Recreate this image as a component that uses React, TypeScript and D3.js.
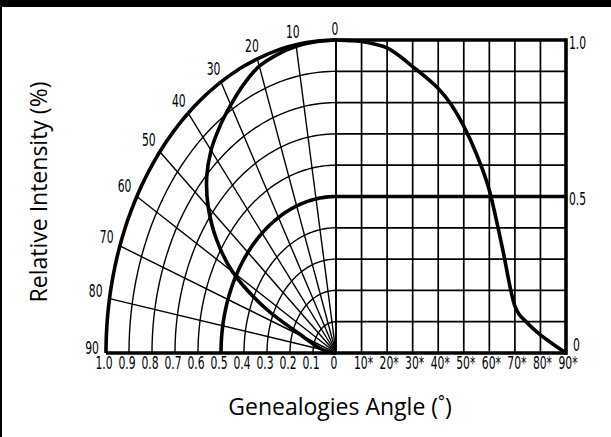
import * as d3 from "d3";
import React from "react";

// polar grid angles (degrees from vertical) and radii
const angleTicks = [0, 10, 20, 30, 40, 50, 60, 70, 80, 90];
const radiusTicks = [0.1, 0.2, 0.3, 0.4, 0.5, 0.6, 0.7, 0.8, 0.9, 1.0];
const intensityTicks = [0, 0.1, 0.2, 0.3, 0.4, 0.5, 0.6, 0.7, 0.8, 0.9, 1.0];

// bottom labels
const radiusLabelValues = [1.0, 0.9, 0.8, 0.7, 0.6, 0.5, 0.4, 0.3, 0.2, 0.1, 0];
const radiusLabels = ["1.0", "0.9", "0.8", "0.7", "0.6", "0.5", "0.4", "0.3", "0.2", "0.1", "0"];
const degreeLabelValues = [10, 20, 30, 40, 50, 60, 70, 80, 90];
const degreeLabels = ["10*", "20*", "30*", "40*", "50*", "60*", "70*", "80*", "90*"];
const intensityLabelValues = [1.0, 0.5, 0];
const intensityLabels = ["1.0", "0.5", "0"];

// measured intensity curve
const curveAngles = [0, 5, 10, 15, 20, 25, 30, 35, 40, 45, 50, 55, 60, 65, 70, 75, 80, 85, 90];
const curveIntensity = [1.0, 0.998, 0.995, 0.987, 0.975, 0.948, 0.915, 0.882, 0.845, 0.795, 0.725, 0.635, 0.52, 0.34, 0.15, 0.095, 0.058, 0.028, 0.0];

const width = 611;
const height = 437;
const cx = 336;
const cy = 353;

const tickFont = "'DejaVu Sans', sans-serif";
const tickSize = 18;
const squeeze = 0.6;
const titleFont = "'Open Sans', 'Noto Sans', sans-serif";

function Narrow({ x, y, anchor, children }: { x: number; y: number; anchor: string; children: React.ReactNode }) {
    return (
        <text
            transform={`translate(${x},${y}) scale(${squeeze},1)`}
            textAnchor={anchor}
            fontFamily={tickFont}
            fontSize={tickSize}
            fill="#000"
        >
            {children}
        </text>
    );
}

export default function App() {
    const rx = d3.scaleLinear().domain([0, 1]).range([0, 230]);
    const ry = d3.scaleLinear().domain([0, 1]).range([0, 313]);
    const xScale = d3.scaleLinear().domain([0, 90]).range([cx, 566]);
    const yScale = d3.scaleLinear().domain([0, 1]).range([cy, cy - 313]);

    const rad = (a: number) => (a * Math.PI) / 180;
    const px = (a: number, r: number) => cx - rx(r) * Math.sin(rad(a));
    const py = (a: number, r: number) => cy - ry(r) * Math.cos(rad(a));

    const arcSteps = d3.range(0, 90.5, 1);
    const arcPath = (r: number) =>
        d3.line<number>().x((a) => px(a, r)).y((a) => py(a, r))(arcSteps) || "";

    const pairs = curveAngles.map((a, i) => ({ a, v: curveIntensity[i] }));

    const lobePath = d3
        .line<{ a: number; v: number }>()
        .x((d) => px(d.a, d.v))
        .y((d) => py(d.a, d.v))
        .curve(d3.curveCatmullRom)(pairs) || "";

    const rightPath = d3
        .line<{ a: number; v: number }>()
        .x((d) => xScale(d.a))
        .y((d) => yScale(d.v))
        .curve(d3.curveMonotoneX)(pairs) || "";

    return (
        <svg
            width={width}
            height={height}
            style={{ position: "absolute", left: 0, top: 0, background: "#fff" }}
        >
            <rect x={0} y={0} width={width} height={height} fill="#fff" />
            <rect x={0} y={0} width={width} height={7} fill="#000" />
            <rect x={0} y={0} width={2} height={height} fill="#000" />

            {/* polar grid */}
            <g stroke="#000" fill="none" strokeWidth={1.4}>
                {radiusTicks.map((r) => (
                    <path key={"c" + r} d={arcPath(r)} />
                ))}
                {angleTicks.map((a) => (
                    <line key={"r" + a} x1={cx} y1={cy} x2={px(a, 1)} y2={py(a, 1)} />
                ))}
            </g>

            {/* rectangular grid */}
            <g stroke="#000" fill="none" strokeWidth={1.7}>
                {angleTicks.map((a) => (
                    <line key={"v" + a} x1={xScale(a)} x2={xScale(a)} y1={yScale(0)} y2={yScale(1)} />
                ))}
                {intensityTicks.map((v) => (
                    <line key={"h" + v} x1={xScale(0)} x2={xScale(90)} y1={yScale(v)} y2={yScale(v)} />
                ))}
            </g>

            {/* heavy frame lines */}
            <g stroke="#000" fill="none" strokeWidth={3.6}>
                <path d={arcPath(1)} />
                <path d={arcPath(0.5)} />
                <line x1={xScale(0)} x2={xScale(90)} y1={yScale(1)} y2={yScale(1)} />
                <line x1={xScale(0)} x2={xScale(90)} y1={yScale(0.5)} y2={yScale(0.5)} />
                <line x1={xScale(90)} x2={xScale(90)} y1={yScale(1) - 1.8} y2={yScale(0) + 1.8} />
                <line x1={px(90, 1)} x2={xScale(90)} y1={cy} y2={cy} />
            </g>

            {/* intensity curves */}
            <path d={lobePath} stroke="#000" fill="none" strokeWidth={3.6} strokeLinejoin="round" />
            <path d={rightPath} stroke="#000" fill="none" strokeWidth={3.6} strokeLinejoin="round" />

            {/* angle labels around the arc */}
            {angleTicks.map((a) => {
                const s = Math.sin(rad(a));
                const c = Math.cos(rad(a));
                return (
                    <Narrow key={"al" + a} x={px(a, 1) - 13 * s - 1} y={py(a, 1) - 12 * c - 6 * s + 6.5} anchor="middle">
                        {a}
                    </Narrow>
                );
            })}

            {/* bottom labels */}
            {radiusLabels.map((t, i) => (
                <Narrow key={"rl" + t} x={px(90, radiusLabelValues[i]) - 2} y={369} anchor="middle">
                    {t}
                </Narrow>
            ))}
            {degreeLabels.map((t, i) => (
                <Narrow key={"dl" + t} x={xScale(degreeLabelValues[i]) + 2} y={369} anchor="middle">
                    {t}
                </Narrow>
            ))}

            {/* right intensity labels */}
            {intensityLabels.map((t, i) => (
                <Narrow
                    key={"il" + t}
                    x={i === 2 ? 573 : 569}
                    y={Math.min(yScale(intensityLabelValues[i]) + 2, 344) + 6.5}
                    anchor="start"
                >
                    {t}
                </Narrow>
            ))}

            {/* axis titles */}
            <text
                x={340}
                y={415}
                textAnchor="middle"
                fontFamily={titleFont}
                fontSize={23}
                fill="#000"
            >
                Genealogies Angle (˚)
            </text>
            <text
                transform={`translate(47, 192) rotate(-90)`}
                textAnchor="middle"
                fontFamily={titleFont}
                fontSize={23}
                fill="#000"
            >
                Relative Intensity (%)
            </text>
        </svg>
    );
}
